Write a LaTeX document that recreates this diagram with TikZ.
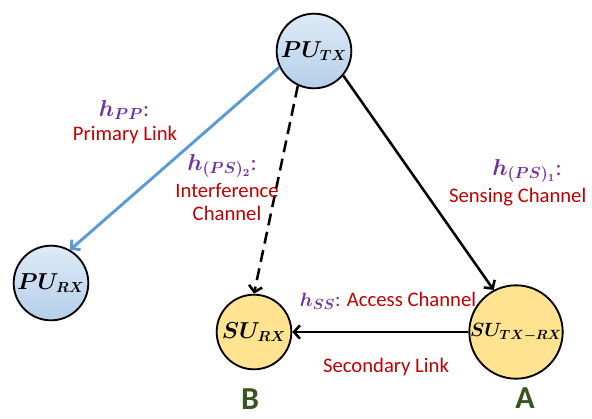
\documentclass[tikz,border=0pt]{standalone}
\usepackage{fontspec}
\setmainfont{Carlito}
\usetikzlibrary{arrows.meta}
\definecolor{puTop}{HTML}{DEEAF6}
\definecolor{puBottom}{HTML}{B4CFEA}
\definecolor{suFill}{HTML}{FFE390}
\definecolor{linkBlue}{HTML}{5B9BD5}
\definecolor{gainPurple}{HTML}{7030A0}
\definecolor{descRed}{HTML}{C00000}
\definecolor{tagGreen}{HTML}{375623}
\begin{document}
\begin{tikzpicture}[x=0.75pt,y=-0.75pt,
	pu/.style={circle,draw,line width=1.4pt,minimum size=56pt,inner sep=0pt,top color=puTop,bottom color=puBottom,font=\fontsize{16}{18}\selectfont\boldmath},
	su/.style={circle,draw,line width=1.4pt,minimum size=56pt,inner sep=0pt,fill=suFill,font=\fontsize{16}{18}\selectfont\boldmath},
	link/.style={line width=1.9pt,-{Straight Barb[length=4.5pt,width=10pt]}},
	gain/.style={text=gainPurple,font=\fontsize{17}{19}\selectfont\boldmath},
	desc/.style={text=descRed,font=\fontsize{15.5}{17}\selectfont,align=center},
	tag/.style={text=tagGreen,font=\fontsize{24}{26}\selectfont\bfseries,inner sep=1pt}]

	\useasboundingbox (0,0) rectangle (592,418);

	\node[pu] (putx) at (314,51) {$PU_{TX}$};
	\node[pu] (purx) at (51,283) {$PU_{RX}$};
	\node[su] (surx) at (254,332) {$SU_{RX}$};
	\node[su, minimum size=61pt, font=\fontsize{14}{16}\selectfont\boldmath] (sutxrx) at (516,332) {$SU_{TX-RX}$};

	\path[link, linkBlue, line width=2.2pt] (putx.205) edge (purx.60);
	\path[link, dashed, dash pattern=on 9pt off 5pt] (putx.245) edge (surx.north);
	\path[link] (putx.320) edge (sutxrx.118);
	\path[link] (sutxrx.west) edge (surx.east);

	\node[gain] (hpp) at (124,110) {$h_{PP}$:};
	\node[desc] (primary) at (125,135) {Primary Link};
	\node[gain] (hps2) at (222,166) {$h_{(PS)_2}$:};
	\node[desc] (interf) at (227,202) {Interference\\Channel};
	\node[gain] (hps1) at (527,171) {$h_{(PS)_1}$:};
	\node[desc, anchor=east] (sensing) at (591,197) {Sensing Channel};
	\node[desc] (access) at (388,301) {{\color{gainPurple}\boldmath$h_{SS}$:} Access Channel};
	\node[desc] (secondary) at (386,367) {Secondary Link};

	\node[tag] (tagb) at (250,399) {B};
	\node[tag] (taga) at (525,398) {A};

\end{tikzpicture}
\end{document}
